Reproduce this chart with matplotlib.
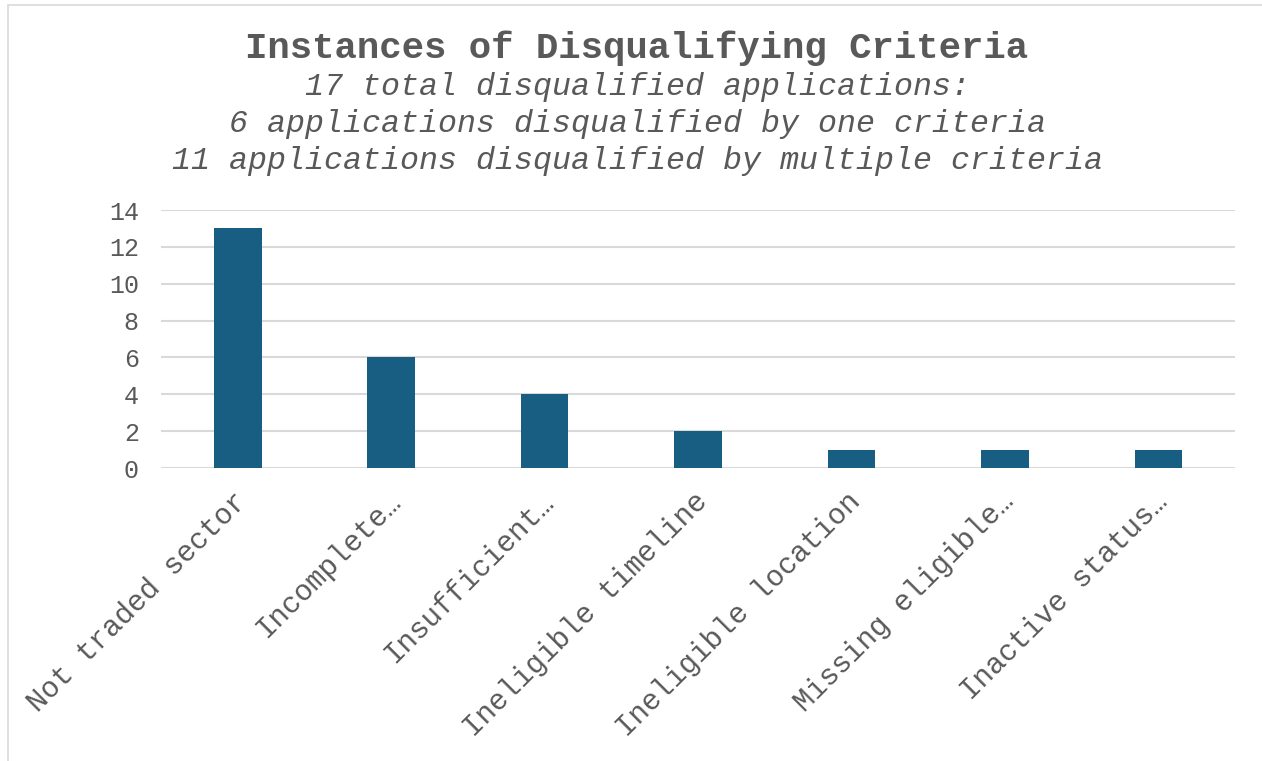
import matplotlib
matplotlib.use("Agg")
import matplotlib.pyplot as plt
from matplotlib.patches import Rectangle
import matplotlib.transforms as mtransforms

categories = ["Not traded sector", "Incomplete…", "Insufficient…", "Ineligible timeline",
              "Ineligible location", "Missing eligible…", "Inactive status…"]
values = [13, 6, 4, 2, 1, 1, 1]
yticks = [0, 2, 4, 6, 8, 10, 12, 14]

title = "Instances of Disqualifying Criteria"
subtitle = ["17 total disqualified applications:",
            "6 applications disqualified by one criteria",
            "11 applications disqualified by multiple criteria"]

FONT = "Liberation Mono"
TXT = "#595959"
BAR = "#175E82"
GRID = "#D9D9D9"

fig = plt.figure(figsize=(12.62, 7.61), dpi=100)
fig.patches.append(Rectangle((0.006, -0.01), 1.0, 1.003, transform=fig.transFigure,
                             fill=False, edgecolor="#D9D9D9", linewidth=1.2))

ax = fig.add_axes([0.1276, 0.385, 0.851, 0.339])
x = list(range(len(categories)))
ax.bar(x, values, width=0.31, color=BAR, zorder=3)
ax.set_xlim(-0.5, len(categories) - 0.5)
ax.set_ylim(0, 14)
ax.set_yticks(yticks)
ax.set_yticklabels([str(v) for v in yticks], family=FONT, fontsize=18, color=TXT)
ax.tick_params(axis="y", length=0, pad=16)
ax.tick_params(axis="x", length=0)
ax.grid(axis="y", color=GRID, linewidth=1.5, zorder=0)
for s in ax.spines.values():
    s.set_visible(False)
ax.set_xticks(x)
ax.set_xticklabels([])
off = mtransforms.offset_copy(ax.transData, fig=fig, x=5, y=-29, units="dots")
for xi, c in zip(x, categories):
    ax.text(xi, 0, c, transform=off, rotation=45, ha="right", va="center",
            rotation_mode="anchor", family=FONT, fontsize=21, color=TXT, clip_on=False)

fig.text(0.5045, 1 - 48 / 761, title, ha="center", va="center", family=FONT,
         fontsize=26.9, fontweight="bold", color=TXT)
for i, line in enumerate(subtitle):
    fig.text(0.5055, 1 - (87 + 37 * i) / 761, line, ha="center", va="center", family=FONT,
             fontsize=22.8, style="italic", color=TXT)

fig.savefig("out.png", dpi=100)
